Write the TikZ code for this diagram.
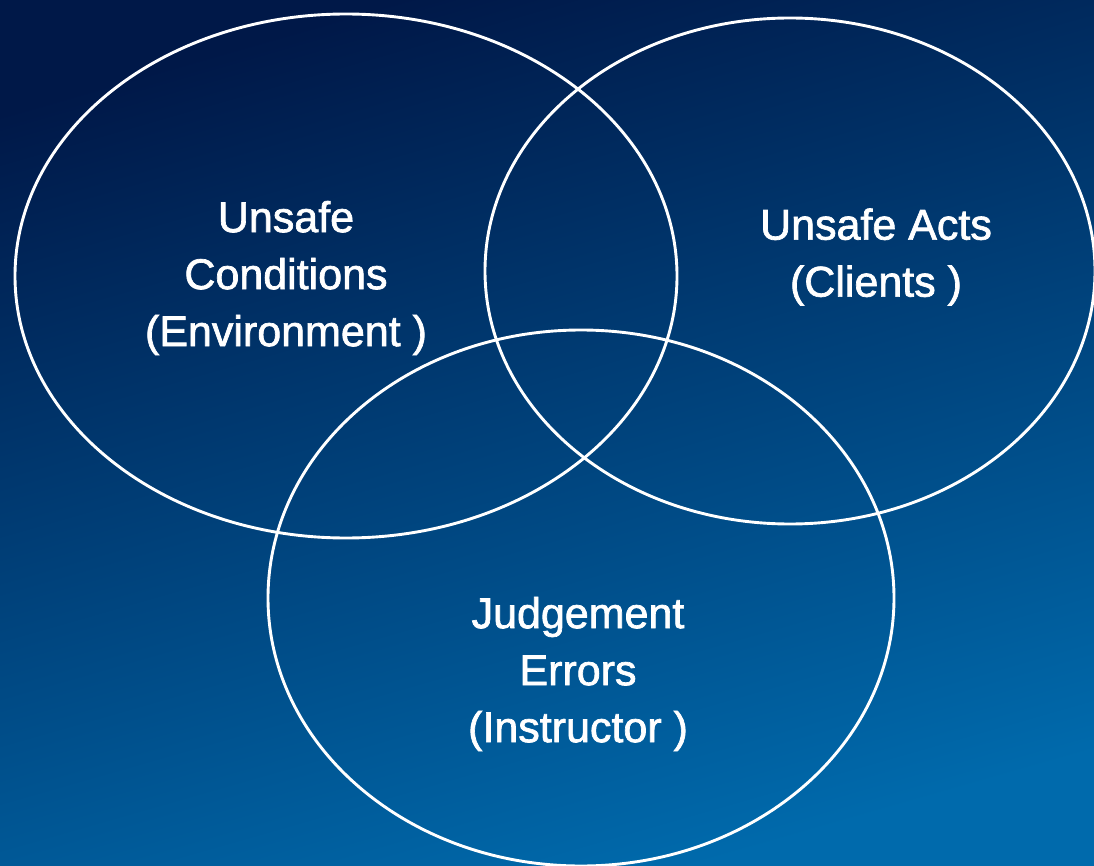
\documentclass[tikz,border=0pt]{standalone}
\usepackage{fontspec}
\setmainfont{Liberation Sans}
\newfontfamily\lblfont{Liberation Sans}[FakeBold=1.6]
\begin{document}
\begin{tikzpicture}[x=1pt,y=-1pt,
  ring/.style={draw=white, line width=2.9pt},
  label/.style={text=white, align=center, inner sep=0pt,
    font=\lblfont\fontsize{43}{57}\selectfont}]
  % background
  \useasboundingbox (0,0) rectangle (1094,866);
  \shade[top color={rgb,255:red,0;green,24;blue,72},
         bottom color={rgb,255:red,0;green,106;blue,172},
         shading angle=16] (0,0) rectangle (1094,866);
  % three overlapping sets
  \begin{scope}
    \clip (0,0) rectangle (1094,866);
    \draw[ring] (346,276) ellipse [x radius=331, y radius=262];
    \draw[ring] (790,271) ellipse [x radius=305, y radius=253];
    \draw[ring] (581,598) ellipse [x radius=313, y radius=268];
  \end{scope}
  % set labels
  \node[label] (cond) at (286,278) {Unsafe\\Conditions\\(Environment )};
  \node[label] (acts) at (876,257) {Unsafe Acts\\(Clients )};
  \node[label] (judg) at (578,674) {Judgement\\Errors\\(Instructor )};
\end{tikzpicture}
\end{document}
